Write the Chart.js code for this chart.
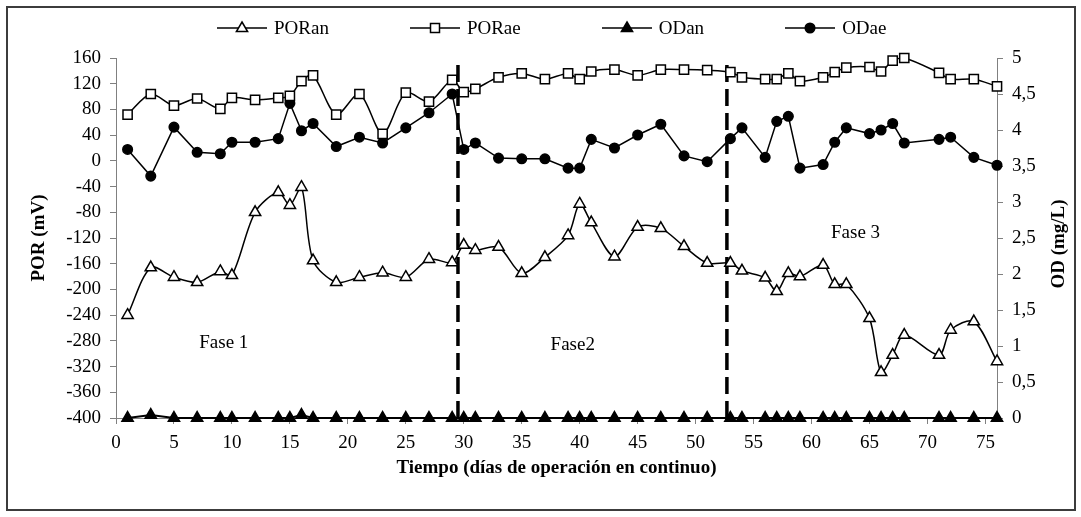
<!DOCTYPE html>
<html lang="es">
<head>
    <meta charset="UTF-8">
    <title>POR y OD en continuo</title>
    <script src="https://cdn.jsdelivr.net/npm/chart.js@4.4.2/dist/chart.umd.min.js"></script>
    <style>
        body {
            margin: 0;
            background: #fff;
            font-family: 'Liberation Serif', 'Times New Roman', serif;
        }
        .marco {
            position: absolute;
            left: 6px; top: 6px;
            width: 1066px; height: 501px;
            border: 2px solid #3c3c3c;
        }
        .grafico {
            position: absolute;
            left: 0; top: 0;
            width: 1081px; height: 517px;
        }
        .leyenda {
            position: absolute;
            left: 217px; top: 17px;
            display: flex;
            gap: 81px;
            font-size: 19px;
            color: #000;
        }
        .leyenda .item { display: flex; align-items: center; gap: 7px; }
    </style>
</head>
<body>
    <div class="marco"></div>
    <div class="grafico"><canvas id="porChart"></canvas></div>
    <div class="leyenda" id="leyenda"></div>

    <script>
    // --- Datos ---
    const dias = [1, 3, 5, 7, 9, 10, 12, 14, 15, 16, 17, 19, 21, 23, 25, 27, 29, 30, 31, 33, 35, 37,
        39, 40, 41, 43, 45, 47, 49, 51, 53, 54, 56, 57, 58, 59, 61, 62, 63, 65, 66, 67, 68, 71, 72, 74, 76];

    // POR (mV), eje izquierdo
    const porAn = [-240, -166, -181, -189, -172, -178, -80, -49, -69, -41, -155, -189, -181, -174, -181, -153, -158, -131, -139, -134, -175, -150,
        -116, -67, -96, -149, -103, -105, -133, -159, -159, -171, -182, -203, -175, -180, -162, -192, -192, -245, -329, -302, -271, -302, -263, -250, -312];
    const porAe = [72, 104, 86, 97, 81, 98, 95, 98, 101, 124, 133, 72, 104, 42, 106, 92, 126, 107, 112, 130, 136, 127,
        136, 127, 139, 142, 133, 142, 142, 141, 138, 130, 127, 127, 136, 124, 130, 138, 145, 146, 139, 156, 160, 137, 127, 127, 116];

    // OD (mg/L), eje derecho
    const odAn = [0, 0.04, 0, 0, 0, 0, 0, 0, 0, 0.04, 0, 0, 0, 0, 0, 0, 0, 0, 0, 0, 0, 0,
        0, 0, 0, 0, 0, 0, 0, 0, 0, 0, 0, 0, 0, 0, 0, 0, 0, 0, 0, 0, 0, 0, 0, 0, 0];
    const odAe = [3.73, 3.36, 4.04, 3.69, 3.67, 3.83, 3.83, 3.88, 4.37, 3.99, 4.09, 3.77, 3.90, 3.82, 4.03, 4.24, 4.50, 3.73, 3.82, 3.61, 3.60, 3.60,
        3.47, 3.47, 3.87, 3.75, 3.93, 4.08, 3.64, 3.56, 3.88, 4.03, 3.62, 4.12, 4.19, 3.47, 3.52, 3.83, 4.03, 3.95, 4.00, 4.09, 3.82, 3.87, 3.90, 3.62, 3.51];

    // marcas del eje x
    const ticksDias = [0, 5, 10, 15, 20, 25, 30, 35, 40, 45, 50, 55, 60, 65, 70, 75];

    // cambios de fase (dia)
    const cambiosFase = [29.5, 52.7];
    const nombresFase = ['Fase 1', 'Fase2', 'Fase 3'];

    const fuente = "'Liberation Serif', 'Times New Roman', serif";

    document.addEventListener('DOMContentLoaded', function () {
        const puntos = vals => dias.map((d, i) => ({ x: d, y: vals[i] }));

        const series = [
            { label: 'PORan', data: puntos(porAn), yAxisID: 'y', pointStyle: 'triangle', pointRadius: 6.5, pointBackgroundColor: '#fff', tension: 0.3 },
            { label: 'PORae', data: puntos(porAe), yAxisID: 'y', pointStyle: 'rect', pointRadius: 6.5, pointBackgroundColor: '#fff', tension: 0.3 },
            { label: 'ODan', data: puntos(odAn), yAxisID: 'y1', pointStyle: 'triangle', pointRadius: 6.5, pointBackgroundColor: '#000', tension: 0, borderWidth: 2 },
            { label: 'ODae', data: puntos(odAe), yAxisID: 'y1', pointStyle: 'circle', pointRadius: 4.8, pointBackgroundColor: '#000', tension: 0 }
        ].map(s => Object.assign({
            borderColor: '#000',
            borderWidth: 1.5,
            pointBorderColor: '#000',
            pointBorderWidth: 1.5,
            clip: false
        }, s));

        // lineas discontinuas de cambio de fase
        const separadores = cambiosFase.map(d => ({
            label: '',
            data: [{ x: d, y: -400 }, { x: d, y: 160 }],
            yAxisID: 'y',
            borderColor: '#000',
            borderWidth: 3.5,
            borderDash: [17, 7],
            pointRadius: 0,
            clip: false
        }));

        // etiquetas de fase y titulo del eje derecho
        const posFase = [{ x: 9.3, y: -284 }, { x: 39.4, y: -286 }, { x: 63.8, y: -112 }];
        const textos = {
            id: 'textos',
            afterDatasetsDraw(chart) {
                const { ctx, scales: { x, y }, chartArea } = chart;
                ctx.save();
                ctx.fillStyle = '#000';
                ctx.textAlign = 'center';
                ctx.textBaseline = 'middle';
                ctx.font = '19px ' + fuente;
                nombresFase.forEach((n, i) => {
                    ctx.fillText(n, x.getPixelForValue(posFase[i].x), y.getPixelForValue(posFase[i].y));
                });
                ctx.font = 'bold 19px ' + fuente;
                ctx.translate(1059, (chartArea.top + chartArea.bottom) / 2 + 6);
                ctx.rotate(-Math.PI / 2);
                ctx.fillText('OD (mg/L)', 0, 0);
                ctx.restore();
            }
        };

        const tickFont = { family: fuente, size: 19 };
        const ejeGris = '#808080';

        new Chart(document.getElementById('porChart'), {
            type: 'line',
            data: { datasets: series.concat(separadores) },
            options: {
                responsive: true,
                maintainAspectRatio: false,
                animation: false,
                layout: { padding: { left: 24, right: 0, top: 58, bottom: 34 } },
                plugins: {
                    legend: { display: false },
                    tooltip: { enabled: false }
                },
                scales: {
                    x: {
                        type: 'linear',
                        min: 0, max: 76,
                        afterBuildTicks: s => { s.ticks = ticksDias.map(v => ({ value: v })); },
                        afterFit: s => { s.height = 65; },
                        ticks: { autoSkip: false, color: '#000', font: tickFont, padding: 8, maxRotation: 0 },
                        grid: { drawOnChartArea: false, tickLength: 6, color: ejeGris },
                        border: { color: ejeGris, width: 1 },
                        title: {
                            display: true,
                            text: 'Tiempo (días de operación en continuo)',
                            color: '#000',
                            font: { family: fuente, size: 19, weight: 'bold' }
                        }
                    },
                    y: {
                        position: 'left',
                        min: -400, max: 160,
                        afterFit: s => { s.width = 92; },
                        ticks: { stepSize: 40, autoSkip: false, color: '#000', font: tickFont, padding: 9 },
                        grid: { drawOnChartArea: false, tickLength: 6, color: ejeGris },
                        border: { color: ejeGris, width: 1 },
                        title: {
                            display: true,
                            text: 'POR (mV)',
                            color: '#000',
                            font: { family: fuente, size: 19, weight: 'bold' }
                        }
                    },
                    y1: {
                        position: 'right',
                        min: 0, max: 5,
                        afterFit: s => { s.width = 84; },
                        ticks: {
                            stepSize: 0.5, autoSkip: false, color: '#000', font: tickFont, padding: 9,
                            callback: v => String(v).replace('.', ',')
                        },
                        grid: { drawOnChartArea: false, tickLength: 6, color: ejeGris },
                        border: { color: ejeGris, width: 1 }
                    }
                }
            },
            plugins: [textos]
        });

        // --- Leyenda HTML ---
        function muestra(s) {
            const relleno = s.pointBackgroundColor;
            let marca;
            if (s.pointStyle === 'triangle') {
                marca = `<polygon points="25,2 30.6,11.5 19.4,11.5" fill="${relleno}" stroke="#000" stroke-width="1.5"/>`;
            } else if (s.pointStyle === 'rect') {
                marca = `<rect x="20.5" y="3.5" width="9" height="9" fill="${relleno}" stroke="#000" stroke-width="1.5"/>`;
            } else {
                marca = `<circle cx="25" cy="8" r="4.8" fill="${relleno}" stroke="#000" stroke-width="1.5"/>`;
            }
            return `<svg width="50" height="16"><line x1="0" y1="8" x2="50" y2="8" stroke="#000" stroke-width="1.5"/>${marca}</svg>`;
        }
        document.getElementById('leyenda').innerHTML = series
            .map(s => `<span class="item">${muestra(s)}<span>${s.label}</span></span>`)
            .join('');
    });
    </script>
</body>
</html>
